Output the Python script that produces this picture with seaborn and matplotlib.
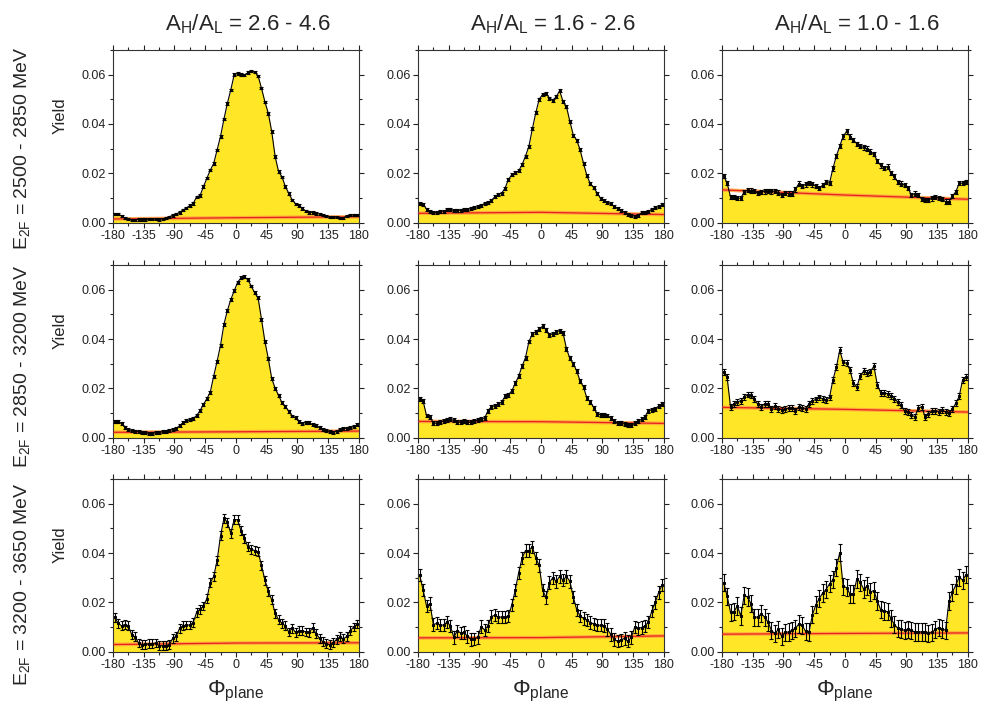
import numpy as np
import pandas as pd
import matplotlib
matplotlib.use("Agg")
import matplotlib.pyplot as plt
import seaborn as sns
from matplotlib.ticker import MultipleLocator, FixedLocator
from matplotlib import font_manager

# ---------------- data ----------------
PHI = np.arange(-177.5, 180, 5)          # bin centres (deg)

COL_TITLES = ["2.6 - 4.6", "1.6 - 2.6", "1.0 - 1.6"]
ROW_LABELS = ["2500 - 2850 MeV", "2850 - 3200 MeV", "3200 - 3650 MeV"]
XTICKS = [-180, -135, -90, -45, 0, 45, 90, 135, 180]
YTICKS = [0.00, 0.02, 0.04, 0.06]

Y_r0c0 = [0.0035, 0.0035, 0.0027, 0.0018, 0.0015, 0.0011, 0.0011, 0.0013, 0.0013, 0.0013, 0.0014, 0.0014, 0.0014, 0.0013, 0.0015, 0.0018, 0.0024, 0.0030,
          0.0035, 0.0042, 0.0051, 0.0060, 0.0069, 0.0078, 0.0105, 0.0110, 0.0146, 0.0180, 0.0213, 0.0240, 0.0295, 0.0350, 0.0420, 0.0484, 0.0538, 0.0600,
          0.0605, 0.0600, 0.0599, 0.0608, 0.0615, 0.0610, 0.0595, 0.0545, 0.0490, 0.0443, 0.0369, 0.0268, 0.0207, 0.0186, 0.0146, 0.0119, 0.0092, 0.0076,
          0.0069, 0.0058, 0.0047, 0.0042, 0.0041, 0.0038, 0.0035, 0.0031, 0.0027, 0.0024, 0.0024, 0.0022, 0.0018, 0.0020, 0.0027, 0.0031, 0.0031, 0.0031]
Y_r0c1 = [0.0077, 0.0075, 0.0055, 0.0045, 0.0040, 0.0042, 0.0045, 0.0047, 0.0052, 0.0055, 0.0048, 0.0050, 0.0050, 0.0052, 0.0052, 0.0058, 0.0060, 0.0065,
          0.0070, 0.0078, 0.0082, 0.0090, 0.0105, 0.0115, 0.0119, 0.0140, 0.0175, 0.0195, 0.0202, 0.0210, 0.0235, 0.0270, 0.0310, 0.0380, 0.0445, 0.0500,
          0.0520, 0.0525, 0.0505, 0.0497, 0.0510, 0.0535, 0.0490, 0.0470, 0.0410, 0.0355, 0.0335, 0.0295, 0.0240, 0.0190, 0.0157, 0.0142, 0.0120, 0.0098,
          0.0088, 0.0082, 0.0077, 0.0065, 0.0058, 0.0050, 0.0042, 0.0035, 0.0030, 0.0025, 0.0030, 0.0040, 0.0042, 0.0045, 0.0055, 0.0060, 0.0065, 0.0072]
Y_r0c2 = [0.0190, 0.0160, 0.0105, 0.0103, 0.0100, 0.0099, 0.0125, 0.0132, 0.0130, 0.0128, 0.0120, 0.0125, 0.0127, 0.0128, 0.0127, 0.0128, 0.0122, 0.0112,
          0.0120, 0.0118, 0.0118, 0.0135, 0.0158, 0.0148, 0.0155, 0.0160, 0.0155, 0.0148, 0.0140, 0.0152, 0.0165, 0.0160, 0.0220, 0.0270, 0.0310, 0.0350,
          0.0370, 0.0349, 0.0335, 0.0320, 0.0310, 0.0305, 0.0300, 0.0288, 0.0278, 0.0250, 0.0232, 0.0222, 0.0227, 0.0202, 0.0188, 0.0165, 0.0158, 0.0152,
          0.0140, 0.0112, 0.0118, 0.0112, 0.0095, 0.0092, 0.0093, 0.0098, 0.0104, 0.0100, 0.0095, 0.0085, 0.0085, 0.0108, 0.0125, 0.0160, 0.0160, 0.0165]
Y_r1c0 = [0.0065, 0.0065, 0.0058, 0.0042, 0.0033, 0.0029, 0.0027, 0.0025, 0.0022, 0.0020, 0.0017, 0.0018, 0.0020, 0.0022, 0.0024, 0.0027, 0.0030, 0.0033,
          0.0038, 0.0048, 0.0062, 0.0069, 0.0072, 0.0078, 0.0090, 0.0110, 0.0135, 0.0158, 0.0185, 0.0250, 0.0310, 0.0375, 0.0460, 0.0515, 0.0560, 0.0595,
          0.0630, 0.0648, 0.0652, 0.0640, 0.0615, 0.0587, 0.0567, 0.0480, 0.0390, 0.0320, 0.0240, 0.0200, 0.0172, 0.0142, 0.0125, 0.0108, 0.0088, 0.0080,
          0.0065, 0.0058, 0.0062, 0.0060, 0.0052, 0.0048, 0.0042, 0.0034, 0.0029, 0.0025, 0.0022, 0.0027, 0.0033, 0.0037, 0.0038, 0.0041, 0.0045, 0.0052]
Y_r1c1 = [0.0157, 0.0148, 0.0090, 0.0085, 0.0060, 0.0058, 0.0062, 0.0068, 0.0072, 0.0075, 0.0070, 0.0065, 0.0062, 0.0068, 0.0062, 0.0062, 0.0066, 0.0072,
          0.0075, 0.0078, 0.0110, 0.0125, 0.0130, 0.0135, 0.0145, 0.0168, 0.0175, 0.0190, 0.0220, 0.0250, 0.0290, 0.0325, 0.0390, 0.0420, 0.0430, 0.0440,
          0.0452, 0.0438, 0.0418, 0.0420, 0.0428, 0.0434, 0.0425, 0.0360, 0.0322, 0.0300, 0.0270, 0.0230, 0.0205, 0.0160, 0.0145, 0.0122, 0.0095, 0.0093,
          0.0092, 0.0090, 0.0080, 0.0068, 0.0058, 0.0058, 0.0056, 0.0050, 0.0050, 0.0058, 0.0066, 0.0075, 0.0085, 0.0110, 0.0112, 0.0118, 0.0128, 0.0135]
Y_r1c2 = [0.0265, 0.0245, 0.0125, 0.0138, 0.0145, 0.0150, 0.0165, 0.0175, 0.0172, 0.0158, 0.0135, 0.0125, 0.0138, 0.0138, 0.0118, 0.0128, 0.0118, 0.0112,
          0.0115, 0.0120, 0.0122, 0.0110, 0.0125, 0.0122, 0.0118, 0.0138, 0.0150, 0.0155, 0.0163, 0.0158, 0.0152, 0.0163, 0.0235, 0.0285, 0.0355, 0.0305,
          0.0302, 0.0275, 0.0220, 0.0205, 0.0250, 0.0270, 0.0262, 0.0268, 0.0290, 0.0215, 0.0182, 0.0182, 0.0178, 0.0170, 0.0158, 0.0145, 0.0132, 0.0108,
          0.0105, 0.0092, 0.0085, 0.0119, 0.0126, 0.0085, 0.0095, 0.0108, 0.0110, 0.0106, 0.0112, 0.0104, 0.0102, 0.0115, 0.0140, 0.0168, 0.0235, 0.0245]
Y_r2c0 = [0.0140, 0.0115, 0.0105, 0.0110, 0.0105, 0.0068, 0.0060, 0.0035, 0.0028, 0.0030, 0.0032, 0.0032, 0.0035, 0.0024, 0.0024, 0.0025, 0.0028, 0.0055,
          0.0062, 0.0095, 0.0105, 0.0108, 0.0108, 0.0118, 0.0160, 0.0172, 0.0185, 0.0215, 0.0280, 0.0305, 0.0370, 0.0470, 0.0540, 0.0525, 0.0480, 0.0535,
          0.0535, 0.0490, 0.0460, 0.0425, 0.0415, 0.0410, 0.0405, 0.0350, 0.0290, 0.0245, 0.0210, 0.0155, 0.0130, 0.0115, 0.0105, 0.0080, 0.0095, 0.0078,
          0.0085, 0.0085, 0.0080, 0.0078, 0.0098, 0.0072, 0.0055, 0.0040, 0.0032, 0.0028, 0.0036, 0.0050, 0.0060, 0.0052, 0.0062, 0.0085, 0.0100, 0.0112]
Y_r2c1 = [0.0310, 0.0250, 0.0185, 0.0195, 0.0110, 0.0115, 0.0108, 0.0108, 0.0120, 0.0105, 0.0058, 0.0085, 0.0076, 0.0078, 0.0062, 0.0050, 0.0052, 0.0058,
          0.0102, 0.0088, 0.0105, 0.0142, 0.0148, 0.0140, 0.0140, 0.0140, 0.0145, 0.0190, 0.0250, 0.0320, 0.0380, 0.0410, 0.0410, 0.0425, 0.0380, 0.0350,
          0.0250, 0.0220, 0.0280, 0.0300, 0.0285, 0.0305, 0.0290, 0.0305, 0.0285, 0.0221, 0.0170, 0.0145, 0.0135, 0.0128, 0.0118, 0.0113, 0.0107, 0.0107,
          0.0106, 0.0090, 0.0070, 0.0050, 0.0042, 0.0048, 0.0054, 0.0042, 0.0058, 0.0100, 0.0094, 0.0098, 0.0105, 0.0120, 0.0165, 0.0200, 0.0240, 0.0270]
Y_r2c2 = [0.0280, 0.0225, 0.0160, 0.0162, 0.0185, 0.0145, 0.0228, 0.0222, 0.0194, 0.0140, 0.0140, 0.0154, 0.0140, 0.0120, 0.0085, 0.0074, 0.0090, 0.0062,
          0.0078, 0.0080, 0.0087, 0.0094, 0.0112, 0.0107, 0.0082, 0.0080, 0.0150, 0.0190, 0.0215, 0.0238, 0.0252, 0.0275, 0.0292, 0.0340, 0.0402, 0.0265,
          0.0260, 0.0234, 0.0234, 0.0295, 0.0281, 0.0254, 0.0266, 0.0242, 0.0248, 0.0205, 0.0170, 0.0165, 0.0162, 0.0135, 0.0110, 0.0095, 0.0092, 0.0086,
          0.0090, 0.0086, 0.0080, 0.0080, 0.0080, 0.0080, 0.0075, 0.0078, 0.0090, 0.0098, 0.0092, 0.0087, 0.0205, 0.0240, 0.0270, 0.0302, 0.0290, 0.0312]

YIELDS = [[Y_r0c0, Y_r0c1, Y_r0c2],
          [Y_r1c0, Y_r1c1, Y_r1c2],
          [Y_r2c0, Y_r2c1, Y_r2c2]]

# typical statistical error (half-height of error bar) per panel
ERR = [[0.0005, 0.0006, 0.0009],
       [0.0006, 0.0008, 0.0012],
       [0.0018, 0.0025, 0.0035]]

# background (red) curve: values at -180, 0, 180 deg
BG_PHI = [-180, 0, 180]
BG = [[[0.0015, 0.0020, 0.0024], [0.0038, 0.0042, 0.0033], [0.0133, 0.0112, 0.0095]],
      [[0.0022, 0.0024, 0.0027], [0.0066, 0.0065, 0.0058], [0.0123, 0.0115, 0.0104]],
      [[0.0029, 0.0035, 0.0036], [0.0056, 0.0057, 0.0064], [0.0071, 0.0074, 0.0076]]]

# ---------------- style ----------------
sns.set_theme(style="ticks")
names = {f.name for f in font_manager.fontManager.ttflist}
NARROW = "Liberation Sans Narrow" if "Liberation Sans Narrow" in names else "Liberation Sans"
plt.rcParams['font.family'] = ['Liberation Sans', 'DejaVu Sans']
plt.rcParams['mathtext.fontset'] = 'custom'
plt.rcParams['mathtext.rm'] = NARROW
plt.rcParams['mathtext.it'] = NARROW
plt.rcParams['axes.linewidth'] = 0.8

YELLOW = "#FFE626"
fig = plt.figure(figsize=(9.87, 7.13), dpi=100)
lefts = [0.1145, 0.4235, 0.7315]
bottoms = [0.6877, 0.3861, 0.086]
W, H = 0.249, 0.2422

for r in range(3):
    for c in range(3):
        ax = fig.add_axes([lefts[c], bottoms[r], W, H])
        y = np.array(YIELDS[r][c])
        xf = np.r_[-180, PHI, 180]
        yf = np.r_[y[0], y, y[-1]]
        ax.fill_between(xf, 0, yf, color=YELLOW, lw=0, zorder=1)

        bg = pd.DataFrame({"phi": BG_PHI, "y": BG[r][c]})
        sns.lineplot(data=bg, x="phi", y="y", ax=ax, color="#FFA040", lw=2.6,
                     alpha=0.85, zorder=2)
        sns.lineplot(data=bg, x="phi", y="y", ax=ax, color="#E8201C", lw=0.9,
                     zorder=3)

        df = pd.DataFrame({"phi": PHI, "y": y})
        ax.errorbar(df["phi"], df["y"], yerr=ERR[r][c], fmt="none",
                    ecolor="black", elinewidth=0.8, capsize=1.6, capthick=0.8,
                    zorder=4)
        sns.lineplot(data=df, x="phi", y="y", ax=ax, color="black", lw=0.8,
                     marker="s", markersize=1.9, markeredgecolor="black",
                     estimator=None, sort=False, zorder=5)

        ax.set_xlim(-180, 180)
        ax.set_ylim(0, 0.07)
        ax.xaxis.set_major_locator(FixedLocator(XTICKS))
        ax.xaxis.set_minor_locator(MultipleLocator(22.5))
        ax.yaxis.set_major_locator(FixedLocator(YTICKS))
        ax.yaxis.set_minor_locator(MultipleLocator(0.01))
        ax.set_xticklabels([str(t) for t in XTICKS])
        ax.set_yticklabels([f"{t:.2f}" for t in YTICKS])
        ax.tick_params(which="both", direction="out", top=True, right=True,
                       labelsize=9, colors="#222222", width=0.8, pad=1.5)
        ax.tick_params(which="major", length=3.5)
        ax.tick_params(which="minor", length=2)
        for s in ax.spines.values():
            s.set_color("#333333")
            s.set_linewidth(0.8)
        ax.set_xlabel("")
        ax.set_ylabel("")
        if c == 0:
            ax.set_ylabel("Yield", fontsize=12, family=[NARROW, "DejaVu Sans"])
            ax.yaxis.set_label_coords(-0.185, 0.62)
        if r == 2:
            ax.set_xlabel("Φ$_\\mathregular{plane}$", fontsize=16,
                          family=[NARROW, "DejaVu Sans"], labelpad=6)

# column titles
for c in range(3):
    xc = lefts[c] + W / 2 + 0.012
    fig.text(xc, 1 - 24 / 713,
             "A$_\\mathregular{H}$/A$_\\mathregular{L}$ = " + COL_TITLES[c],
             ha="center", va="center", fontsize=16,
             family=[NARROW, "DejaVu Sans"])

# row labels
row_centres = [148, 366, 584]
for r in range(3):
    fig.text(22 / 987, 1 - row_centres[r] / 713,
             "E$_\\mathregular{2F}$ = " + ROW_LABELS[r],
             rotation=90, ha="center", va="center", fontsize=14,
             family=[NARROW, "DejaVu Sans"])

fig.savefig("out.png", dpi=100)
